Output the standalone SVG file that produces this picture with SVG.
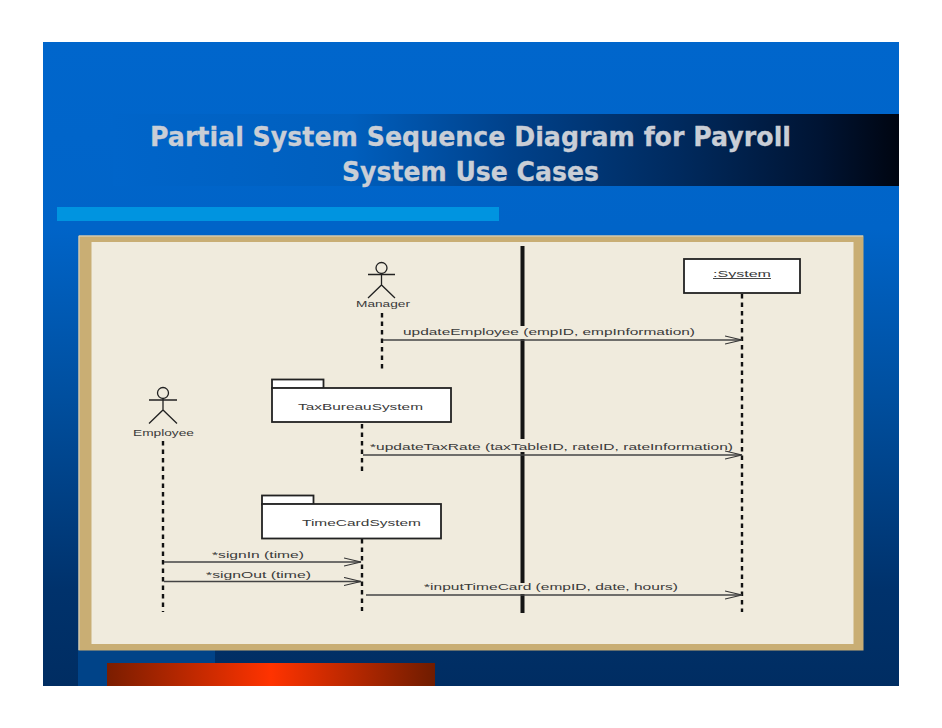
<svg xmlns="http://www.w3.org/2000/svg" width="942" height="728" viewBox="0 0 942 728">
<defs>
<linearGradient id="bg" x1="0" y1="0" x2="0" y2="1"><stop offset="0" stop-color="#0066cc"/><stop offset="0.29" stop-color="#0064c8"/><stop offset="0.55" stop-color="#004f9f"/><stop offset="0.85" stop-color="#00326c"/><stop offset="1" stop-color="#002d62"/></linearGradient>
<linearGradient id="band" x1="0" y1="0" x2="1" y2="0"><stop offset="0" stop-color="#0065ca"/><stop offset="0.3" stop-color="#005fbe"/><stop offset="0.5" stop-color="#00428c"/><stop offset="0.72" stop-color="#002a5e"/><stop offset="0.9" stop-color="#001433"/><stop offset="1" stop-color="#000511"/></linearGradient>
<linearGradient id="red" x1="0" y1="0" x2="1" y2="0"><stop offset="0" stop-color="#7a1d00"/><stop offset="0.5" stop-color="#ff3300"/><stop offset="1" stop-color="#6f1c00"/></linearGradient>
<marker id="open" markerUnits="userSpaceOnUse" markerWidth="20" markerHeight="12" refX="17" refY="5" orient="auto"><path d="M0 1L17 5L0 9" fill="none" stroke="#333" stroke-width="1.2"/></marker>
</defs>
<style>
.t{font-family:"Liberation Sans",Arial,sans-serif;font-size:9px;fill:#3a3a3a}
.title{font-family:"DejaVu Sans",Verdana,sans-serif;font-weight:bold;font-size:26px;fill:#c9ced6;stroke:#c9ced6;stroke-width:0.3}
.life{fill:none;stroke:#111;stroke-width:2.4;stroke-dasharray:4.5 4}
.box{fill:#fff;stroke:#222;stroke-width:1.8}
.act{fill:none;stroke:#222;stroke-width:1.3}
.msg{fill:none;stroke:#444;stroke-width:1.3;marker-end:url(#open)}
.bar{fill:#151515}
</style>
<rect width="942" height="728" fill="#fff"/>
<rect x="43" y="42" width="856" height="644" fill="url(#bg)"/>
<rect x="78" y="640" width="137" height="46" fill="#004388"/>
<rect x="113" y="114" width="786" height="72" fill="url(#band)"/>
<rect x="57" y="207" width="442" height="14" fill="#0094e0"/>
<rect x="107" y="663" width="328" height="23" fill="url(#red)"/>
<rect x="78.500" y="235.500" width="785" height="415" fill="#c9ae74"/>
<path d="M79 650V236H863" fill="none" stroke="#d9d6c8" stroke-width="1"/>
<rect x="91.500" y="242" width="762" height="402" fill="#f0ebdd"/>
<text class="title" x="150" y="146" textLength="641" lengthAdjust="spacingAndGlyphs">Partial System Sequence Diagram for Payroll</text>
<text class="title" x="342" y="181" textLength="257" lengthAdjust="spacingAndGlyphs">System Use Cases</text>

<g id="divider"><rect class="bar" x="520.500" y="246" width="4" height="80"/><rect class="bar" x="520.500" y="339" width="4" height="100"/><rect class="bar" x="520.500" y="452" width="4" height="131"/><rect class="bar" x="520.500" y="594" width="4" height="19"/></g>

<g id="connectors">
<path class="life" d="M382 313V369"/>
<path class="life" d="M742 294V612"/>
<path class="life" d="M362 424V472"/>
<path class="life" d="M362 539V611"/>
<path class="life" d="M163 441V612"/>
<path class="msg" d="M383 340H742"/>
<path class="msg" d="M363 455H742"/>
<path class="msg" d="M164 562H361"/>
<path class="msg" d="M164 581.500H361"/>
<path class="msg" d="M366 595H742"/>
<text class="t" x="403" y="335" textLength="292" lengthAdjust="spacingAndGlyphs">updateEmployee (empID, empInformation)</text>
<text class="t" x="370" y="450" textLength="363" lengthAdjust="spacingAndGlyphs">*updateTaxRate (taxTableID, rateID, rateInformation)</text>
<text class="t" x="212" y="558" textLength="92" lengthAdjust="spacingAndGlyphs">*signIn (time)</text>
<text class="t" x="206" y="578" textLength="105" lengthAdjust="spacingAndGlyphs">*signOut (time)</text>
<text class="t" x="424" y="590" textLength="254" lengthAdjust="spacingAndGlyphs">*inputTimeCard (empID, date, hours)</text>
</g>

<g id="manager">
<circle class="act" cx="381.500" cy="268" r="5.500"/>
<path class="act" d="M368 274.500H395M381.500 273.500V285M368 298L381.500 285L395 298"/>
<text class="t" x="356" y="307" textLength="54" lengthAdjust="spacingAndGlyphs">Manager</text>
</g>
<g id="system">
<rect class="box" x="684" y="259" width="116" height="34"/>
<text class="t" x="713" y="277" textLength="58" lengthAdjust="spacingAndGlyphs">:System</text>
<path d="M713 278.500H771" stroke="#333" stroke-width="0.9"/>
</g>
<g id="employee">
<circle class="act" cx="163" cy="393" r="5.500"/>
<path class="act" d="M149 400H177M163 398.500V410M149 423.500L163 410L177 423.500"/>
<text class="t" x="133" y="436" textLength="61" lengthAdjust="spacingAndGlyphs">Employee</text>
</g>
<g id="taxbureau">
<rect class="box" x="272" y="379.500" width="51.500" height="9"/>
<rect class="box" x="272" y="388" width="179" height="34"/>
<text class="t" x="298" y="410" textLength="125" lengthAdjust="spacingAndGlyphs">TaxBureauSystem</text>
</g>
<g id="timecard">
<rect class="box" x="262" y="495.500" width="51.500" height="9"/>
<rect class="box" x="262" y="504" width="179" height="34.500"/>
<text class="t" x="302" y="526" textLength="119" lengthAdjust="spacingAndGlyphs">TimeCardSystem</text>
</g>
</svg>
